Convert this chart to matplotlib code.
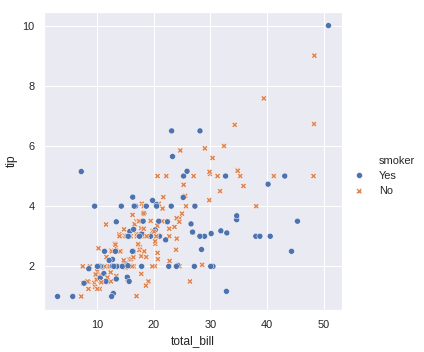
import matplotlib
matplotlib.use("Agg")
import matplotlib.pyplot as plt
from matplotlib.lines import Line2D
import pandas as pd
import seaborn as sns

# tips data (total_bill, tip, smoker), one row per party
total_bill = [16.99, 10.34, 21.01, 23.68, 24.59, 25.29, 8.77, 26.88, 15.04, 14.78,
              10.27, 35.26, 15.42, 18.43, 14.83, 21.58, 10.33, 16.29, 16.97, 20.65,
              17.92, 20.29, 15.77, 39.42, 19.82, 17.81, 13.37, 12.69, 21.7, 19.65,
              9.55, 18.35, 15.06, 20.69, 17.78, 24.06, 16.31, 16.93, 18.69, 31.27,
              16.04, 17.46, 13.94, 9.68, 30.4, 18.29, 22.23, 32.4, 28.55, 18.04,
              12.54, 10.29, 34.81, 9.94, 25.56, 19.49, 38.01, 26.41, 11.24, 48.27,
              20.29, 13.81, 11.02, 18.29, 17.59, 20.08, 16.45, 3.07, 20.23, 15.01,
              12.02, 17.07, 26.86, 25.28, 14.73, 10.51, 17.92, 27.2, 22.76, 17.29,
              19.44, 16.66, 10.07, 32.68, 15.98, 34.83, 13.03, 18.28, 24.71, 21.16,
              28.97, 22.49, 5.75, 16.32, 22.75, 40.17, 27.28, 12.03, 21.01, 12.46,
              11.35, 15.38, 44.3, 22.42, 20.92, 15.36, 20.49, 25.21, 18.24, 14.31,
              14.0, 7.25, 38.07, 23.95, 25.71, 17.31, 29.93, 10.65, 12.43, 24.08,
              11.69, 13.42, 14.26, 15.95, 12.48, 29.8, 8.52, 14.52, 11.38, 22.82,
              19.08, 20.27, 11.17, 12.26, 18.26, 8.51, 10.33, 14.15, 16.0, 13.16,
              17.47, 34.3, 41.19, 27.05, 16.43, 8.35, 18.64, 11.87, 9.78, 7.51,
              14.07, 13.13, 17.26, 24.55, 19.77, 29.85, 48.17, 25.0, 13.39, 16.49,
              21.5, 12.66, 16.21, 13.81, 17.51, 24.52, 20.76, 31.71, 10.59, 10.63,
              50.81, 15.81, 7.25, 31.85, 16.82, 32.9, 17.89, 14.48, 9.6, 34.63,
              34.65, 23.33, 45.35, 23.17, 40.55, 20.69, 20.9, 30.46, 18.15, 23.1,
              15.69, 19.81, 28.44, 15.48, 16.58, 7.56, 10.34, 43.11, 13.0, 13.51,
              18.71, 12.74, 13.0, 16.4, 20.53, 16.47, 26.59, 38.73, 24.27, 12.76,
              30.06, 25.89, 48.33, 13.27, 28.17, 12.9, 28.15, 11.59, 7.74, 30.14,
              12.16, 13.42, 8.58, 15.98, 13.42, 16.27, 10.09, 20.45, 13.28, 22.12,
              24.01, 15.69, 11.61, 10.77, 15.53, 10.07, 12.6, 32.83, 35.83, 29.03,
              27.18, 22.67, 17.82, 18.78]
tip = [1.01, 1.66, 3.5, 3.31, 3.61, 4.71, 2.0, 3.12, 1.96, 3.23,
       1.71, 5.0, 1.57, 3.0, 3.02, 3.92, 1.67, 3.71, 3.5, 3.35,
       4.08, 2.75, 2.23, 7.58, 3.18, 2.34, 2.0, 2.0, 4.3, 3.0,
       1.45, 2.5, 3.0, 2.45, 3.27, 3.6, 2.0, 3.07, 2.31, 5.0,
       2.24, 2.54, 3.06, 1.32, 5.6, 3.0, 5.0, 6.0, 2.05, 3.0,
       2.5, 2.6, 5.2, 1.56, 4.34, 3.51, 3.0, 1.5, 1.76, 6.73,
       3.21, 2.0, 1.98, 3.76, 2.64, 3.15, 2.47, 1.0, 2.01, 2.09,
       1.97, 3.0, 3.14, 5.0, 2.2, 1.25, 3.08, 4.0, 3.0, 2.71,
       3.0, 3.4, 1.83, 5.0, 2.03, 5.17, 2.0, 4.0, 5.85, 3.0,
       3.0, 3.5, 1.0, 4.3, 3.25, 4.73, 4.0, 1.5, 3.0, 1.5,
       2.5, 3.0, 2.5, 3.48, 4.08, 1.64, 4.06, 4.29, 3.76, 4.0,
       3.0, 1.0, 4.0, 2.55, 4.0, 3.5, 5.07, 1.5, 1.8, 2.92,
       2.31, 1.68, 2.5, 2.0, 2.52, 4.2, 1.48, 2.0, 2.0, 2.18,
       1.5, 2.83, 1.5, 2.0, 3.25, 1.25, 2.0, 2.0, 2.0, 2.75,
       3.5, 6.7, 5.0, 5.0, 2.3, 1.5, 1.36, 1.63, 1.73, 2.0,
       2.5, 2.0, 2.74, 2.0, 2.0, 5.14, 5.0, 3.75, 2.61, 2.0,
       3.5, 2.5, 2.0, 2.0, 3.0, 3.48, 2.24, 4.5, 1.61, 2.0,
       10.0, 3.16, 5.15, 3.18, 4.0, 3.11, 2.0, 2.0, 4.0, 3.55,
       3.68, 5.65, 3.5, 6.5, 3.0, 5.0, 3.5, 2.0, 3.5, 4.0,
       1.5, 4.19, 2.56, 2.02, 4.0, 1.44, 2.0, 5.0, 2.0, 2.0,
       4.0, 2.01, 2.0, 2.5, 4.0, 3.23, 3.41, 3.0, 2.03, 2.23,
       2.0, 5.16, 9.0, 2.5, 6.5, 1.1, 3.0, 1.5, 1.44, 3.09,
       2.2, 3.48, 1.92, 3.0, 1.58, 2.5, 2.0, 3.0, 2.72, 2.88,
       2.0, 3.0, 3.39, 1.47, 3.0, 1.25, 1.0, 1.17, 4.67, 5.92,
       2.0, 2.0, 1.75, 3.0]
Y, N = "Yes", "No"
smoker = [N, N, N, N, N, N, N, N, N, N,
          N, N, N, N, N, N, N, N, N, N,
          N, N, N, N, N, N, N, N, N, N,
          N, N, N, N, N, N, N, N, N, N,
          N, N, N, N, N, N, N, N, N, N,
          N, N, N, N, N, N, Y, N, Y, N,
          Y, Y, Y, Y, N, N, N, Y, N, Y,
          N, N, Y, Y, N, N, Y, N, N, N,
          Y, N, N, Y, N, N, N, N, N, N,
          Y, N, Y, Y, N, Y, Y, Y, Y, N,
          Y, Y, Y, Y, N, Y, Y, Y, N, Y,
          N, N, N, N, N, N, N, N, N, N,
          N, N, N, N, N, N, N, N, N, N,
          N, N, N, N, N, N, N, N, Y, N,
          N, N, N, N, N, N, N, N, N, N,
          N, N, N, N, N, N, N, N, N, N,
          N, N, N, N, Y, N, N, N, Y, Y,
          Y, Y, Y, Y, Y, Y, Y, Y, Y, Y,
          Y, Y, Y, Y, Y, N, Y, Y, Y, Y,
          Y, Y, Y, Y, Y, N, Y, Y, Y, Y,
          Y, Y, Y, Y, Y, Y, Y, Y, Y, Y,
          Y, Y, N, Y, Y, Y, Y, Y, Y, Y,
          Y, Y, Y, N, Y, Y, Y, N, N, Y,
          Y, Y, N, N, Y, N, Y, Y, N, N,
          Y, Y, N, N]
smoker_order = ["Yes", "No"]

df = pd.DataFrame({"total_bill": total_bill, "tip": tip, "smoker": smoker})

sns.set()
plt.rcParams["font.family"] = ["Liberation Sans", "DejaVu Sans"]

fig = plt.figure(figsize=(424 / 72, 352 / 72), dpi=72)
ax = fig.add_axes([44 / 424, 42 / 352, 298 / 424, 298 / 352])
sns.scatterplot(data=df, x="total_bill", y="tip", hue="smoker", style="smoker",
                hue_order=smoker_order, style_order=smoker_order, ax=ax)
ax.xaxis.labelpad = 6

# old-style seaborn legend: title drawn as an entry without a handle
handles, labels = ax.get_legend_handles_labels()
ax.get_legend().remove()
blank = Line2D([], [], linestyle="", marker="")
fig.legend([blank] + handles, ["smoker"] + labels, loc="center left",
           bbox_to_anchor=(344 / 424, 0.5), borderaxespad=0, frameon=False,
           fontsize=11)
fig.savefig("out.png", dpi=72)
